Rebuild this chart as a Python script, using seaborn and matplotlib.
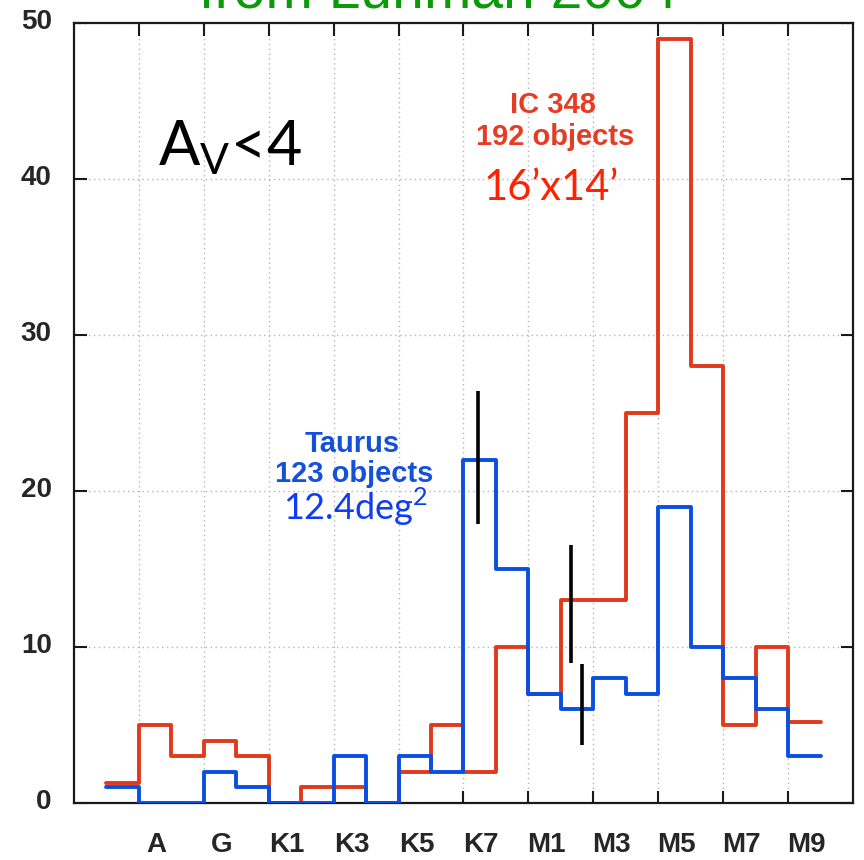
import numpy as np
import pandas as pd
import matplotlib
matplotlib.use("Agg")
import matplotlib.pyplot as plt
import matplotlib.transforms as mtransforms
from matplotlib.ticker import FixedLocator, NullFormatter, FixedFormatter
import seaborn as sns

# ---------------- data ----------------
spectral_types = ['B', 'A', 'F', 'G', 'K0', 'K1', 'K2', 'K3', 'K4', 'K5', 'K6', 'K7',
                  'M0', 'M1', 'M2', 'M3', 'M4', 'M5', 'M6', 'M7', 'M8', 'M9']
ic348_counts = [1.3, 5, 3, 4, 3, 0, 1, 1, 0, 2, 5, 2, 10, 7, 13, 13, 25, 49, 28, 5, 10, 5.2]
taurus_counts = [1, 0, 0, 2, 1, 0, 0, 3, 0, 3, 2, 22, 15, 7, 6, 8, 7, 19, 10, 8, 6, 3]
tick_labels = ['A', 'G', 'K1', 'K3', 'K5', 'K7', 'M1', 'M3', 'M5', 'M7', 'M9']
y_ticks = [0, 10, 20, 30, 40, 50]
err_types = ['K7', 'M2', 'M2']
err_values = [22.15, 12.77, 6.3]
err_sizes = [4.26, 3.77, 2.6]

# ---------------- styles ----------------
RED = '#e03a1c'
BLUE = '#0a4fe0'
err_offsets = [-0.04, -0.19, 0.15]

sns.set_style('white')
plt.rcParams['font.family'] = ['Liberation Sans', 'DejaVu Sans']

df = pd.DataFrame({
    'idx': np.arange(len(spectral_types)),
    'type': spectral_types,
    'ic348': ic348_counts,
    'taurus': taurus_counts,
})

fig = plt.figure(figsize=(8.64, 8.60), dpi=100)
ax = fig.add_axes([74 / 864, 57 / 860, 779 / 864, 780 / 860])

sns.histplot(data=df, x='idx', weights='ic348', discrete=True, element='step',
             fill=False, color=RED, linewidth=2.8, ax=ax, zorder=3)
sns.histplot(data=df, x='idx', weights='taurus', discrete=True, element='step',
             fill=False, color=BLUE, linewidth=2.8, ax=ax, zorder=4)

# error bars
ex = [spectral_types.index(t) + o for t, o in zip(err_types, err_offsets)]
ax.errorbar(ex, err_values, yerr=err_sizes, fmt='none', ecolor='black',
            elinewidth=2.6, capsize=0, zorder=5)

ax.set_xlim(-1.5, 22.5)
ax.set_ylim(0, 50)
ax.set_xlabel('')
ax.set_ylabel('')

# ticks
idx_of = {t: i for i, t in enumerate(spectral_types)}
major_x = [idx_of[t] - 0.5 for t in tick_labels]
minor_x = [idx_of[t] + 0.05 for t in tick_labels]
ax.xaxis.set_major_locator(FixedLocator(major_x))
ax.xaxis.set_major_formatter(NullFormatter())
ax.xaxis.set_minor_locator(FixedLocator(minor_x))
ax.xaxis.set_minor_formatter(FixedFormatter(tick_labels))
ax.yaxis.set_major_locator(FixedLocator(y_ticks))

ax.tick_params(which='major', direction='in', length=9, width=1.5, color='#1a1a1a',
               top=True, right=True, bottom=True, left=True)
ax.tick_params(axis='x', which='minor', length=0, pad=21, labelsize=20)
ax.tick_params(axis='y', which='major', pad=16, labelsize=20)

for lab in ax.get_xticklabels(minor=True):
    lab.set_fontweight('bold')
offset = mtransforms.ScaledTranslation(0, 0.04, fig.dpi_scale_trans)
for lab in ax.get_yticklabels():
    lab.set_fontweight('bold')
    lab.set_transform(lab.get_transform() + offset)

ax.grid(True, which='major', axis='both', color='#b5b5b5',
        linestyle=(0, (1, 2.5)), linewidth=1.0)
ax.set_axisbelow(True)
for s in ax.spines.values():
    s.set_linewidth(1.6)
    s.set_color('#1a1a1a')

# annotations
ax.text(13.27, 44.25, 'IC 348', ha='center', va='baseline', fontsize=21,
        fontweight='bold', color='#e63c24', zorder=6)
ax.text(13.32, 42.2, '192 objects', ha='center', va='baseline', fontsize=21,
        fontweight='bold', color='#e63c24', zorder=6)
ax.text(13.2, 38.65, '16\u2019x14\u2019', ha='center', va='baseline', fontsize=30,
        color='#ff2200', family=['Lato', 'DejaVu Sans'], zorder=6)

ax.text(7.08, 22.5, 'Taurus', ha='center', va='baseline', fontsize=21,
        fontweight='bold', color='#1550d8', zorder=6)
ax.text(7.12, 20.58, '123 objects', ha='center', va='baseline', fontsize=21,
        fontweight='bold', color='#1550d8', zorder=6)
ax.text(7.18, 18.14, r'12.4deg$^{\mathregular{2}}$', ha='center', va='baseline',
        fontsize=26, color='#0f3cf5', family=['Lato', 'DejaVu Sans'], zorder=6)

ax.text(1.085, 40.9, r'A$_{\mathregular{V}}$<4', ha='left', va='baseline', fontsize=44,
        color='black', family=['Lato', 'DejaVu Sans'], zorder=6)

fig.text(438 / 864, 1 - 7 / 860, 'from Luhman 2004', ha='center', va='baseline',
         fontsize=41, color='#0a9a0a')

fig.savefig('out.png', dpi=100)
